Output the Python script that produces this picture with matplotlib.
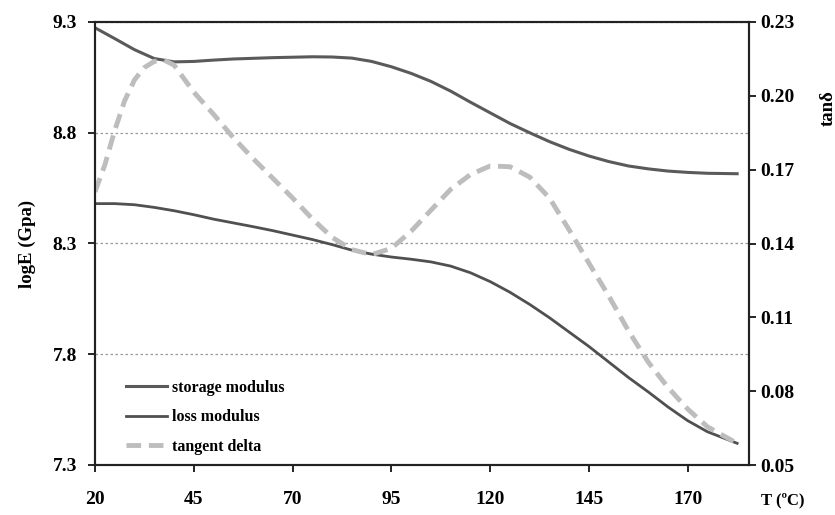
import matplotlib
matplotlib.use("Agg")
import matplotlib.pyplot as plt

plt.rcParams['font.family'] = ['Liberation Serif', 'DejaVu Serif']
plt.rcParams['font.weight'] = 'bold'

# temperature (C)
temp = [20, 25, 30, 35, 40, 45, 50, 55, 60, 65, 70, 75, 80, 85, 90, 95, 100,
        105, 110, 115, 120, 125, 130, 135, 140, 145, 150, 155, 160, 165, 170,
        175, 182.5]
storage = [9.274, 9.225, 9.175, 9.135, 9.12, 9.122, 9.128, 9.133, 9.136, 9.139,
           9.141, 9.143, 9.142, 9.137, 9.122, 9.098, 9.068, 9.032, 8.988, 8.938,
           8.89, 8.842, 8.8, 8.76, 8.725, 8.695, 8.67, 8.65, 8.637, 8.627,
           8.621, 8.617, 8.615]
loss = [8.48, 8.48, 8.475, 8.463, 8.448, 8.43, 8.41, 8.393, 8.376, 8.358, 8.338,
        8.318, 8.295, 8.27, 8.252, 8.239, 8.229, 8.217, 8.198, 8.168, 8.128, 8.08,
        8.025, 7.965, 7.9, 7.835, 7.765, 7.695, 7.63, 7.562, 7.5, 7.45, 7.398]

temp_td = [20, 22.5, 25, 27.5, 30, 32.5, 35, 37.5, 40, 45, 50, 55, 60, 65, 70,
           75, 80, 85, 90, 95, 100, 105, 110, 115, 120, 125, 130, 135, 140,
           145, 150, 155, 160, 165, 170, 175, 182.5]
tan_delta = [0.161, 0.172, 0.186, 0.198, 0.2065, 0.2115, 0.214, 0.2145, 0.2125,
             0.2015, 0.1925, 0.183, 0.1745, 0.1665, 0.1585, 0.15, 0.1425,
             0.1375, 0.1355, 0.138, 0.145, 0.1535, 0.162, 0.168, 0.1715,
             0.1712, 0.167, 0.1585, 0.1455, 0.132, 0.1187, 0.1045, 0.0918,
             0.0815, 0.0727, 0.0655, 0.0588]

xticks = [20, 45, 70, 95, 120, 145, 170]
yticks_left = [7.3, 7.8, 8.3, 8.8, 9.3]
yticks_right = [0.05, 0.08, 0.11, 0.14, 0.17, 0.20, 0.23]

fig = plt.figure(figsize=(8.35, 5.15), dpi=100)
ax = fig.add_axes([95/835, 1-465/515, (749-95)/835, (465-22)/515])
ax2 = ax.twinx()

l1, = ax.plot(temp, storage, color='#5a5a5a', lw=2.2, label='storage modulus')
l2, = ax.plot(temp, loss, color='#505050', lw=2.0, label='loss modulus')
l3, = ax2.plot(temp_td, tan_delta, color='#bdbdbd', lw=3.5, ls=(0, (3, 1.6)),
               label='tangent delta')

ax.set_xlim(20, 185.5)
ax.set_ylim(7.3, 9.3)
ax2.set_ylim(0.05, 0.23)
ax.set_xticks(xticks)
ax.set_yticks(yticks_left)
ax.set_yticklabels([f'{v:.1f}' for v in yticks_left])
ax2.set_yticks(yticks_right)
ax2.set_yticklabels([f'{v:.2f}' for v in yticks_right])

ax.yaxis.grid(True, ls=(0, (2, 2)), color='#9a9a9a', lw=0.9)
for a in (ax, ax2):
    for s in a.spines.values():
        s.set_linewidth(1.5)
        s.set_color('#222222')
ax.tick_params(axis='x', direction='out', length=5, width=1.2, pad=14, labelsize=14)
ax.tick_params(axis='y', direction='out', length=5, width=1.2, pad=8, labelsize=14)
ax2.tick_params(axis='y', direction='out', length=5, width=1.2, pad=3, labelsize=14)

ax.set_ylabel('logE (Gpa)', fontsize=13.5, fontweight='bold', labelpad=12)
fig.text(828/835, 1-108/515, 'tanδ', rotation=90, fontsize=13.5, fontweight='bold',
         ha='center', va='center')
fig.text(783/835, 1-500/515, 'T (ºC)', fontsize=12, fontweight='bold',
         ha='center', va='center')

ax.legend(handles=[l1, l2, l3], loc='lower left', bbox_to_anchor=(0.025, -0.01),
          frameon=False, handlelength=2.6, handletextpad=0.3,
          labelspacing=0.85, prop={'weight': 'bold', 'size': 11.5})

fig.savefig('out.png', dpi=100)
